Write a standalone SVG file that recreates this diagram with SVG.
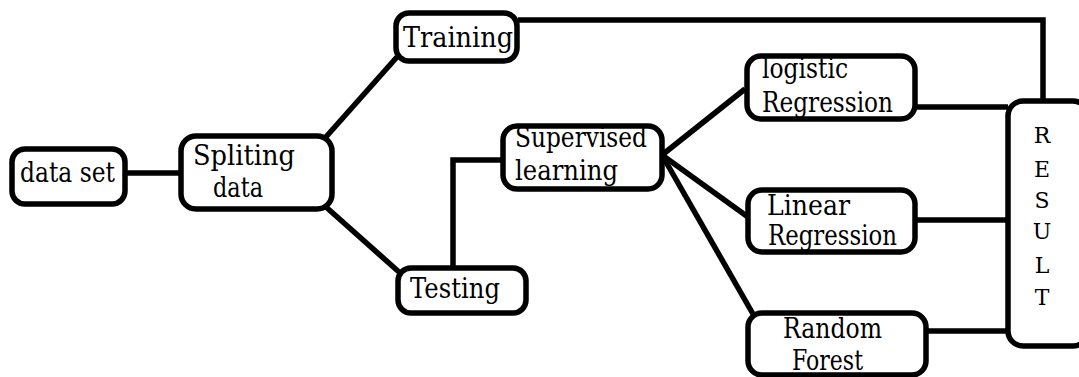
<svg xmlns="http://www.w3.org/2000/svg" width="1079" height="377" viewBox="0 0 1079 377">
<style>
.box{fill:#fff;stroke:#000;stroke-width:5.5}
.ln{fill:none;stroke:#000;stroke-width:5.5;stroke-linejoin:miter}
.t{font-family:'DejaVu Serif','Liberation Serif',serif;font-size:27px;fill:#000}
.res{font-size:22px;text-anchor:middle}
</style>
<rect width="1079" height="377" fill="#fff"/>
<g id="connectors">
<line class="ln" x1="125" y1="173" x2="182" y2="173"/>
<line class="ln" x1="325" y1="138" x2="397" y2="57"/>
<line class="ln" x1="326" y1="207" x2="399" y2="272"/>
<polyline class="ln" points="518,20 1043,20 1043,101"/>
<polyline class="ln" points="453,268 453,160 503,160"/>
<line class="ln" x1="662" y1="155" x2="745" y2="89"/>
<line class="ln" x1="662" y1="155" x2="748" y2="217"/>
<line class="ln" x1="662" y1="155" x2="753" y2="314"/>
<line class="ln" x1="915" y1="107" x2="1008" y2="107"/>
<line class="ln" x1="915" y1="220" x2="1008" y2="220"/>
<line class="ln" x1="925" y1="331" x2="1008" y2="331"/>
</g>
<g class="t">
<g id="dataset">
<rect class="box" x="12" y="149" width="113" height="55" rx="13"/>
<text x="20" y="182" textLength="95" lengthAdjust="spacingAndGlyphs">data set</text>
</g>
<g id="spliting">
<rect class="box" x="181" y="136" width="151" height="73" rx="15"/>
<text x="193" y="165" textLength="102" lengthAdjust="spacingAndGlyphs">Spliting</text>
<text x="213" y="197" textLength="50" lengthAdjust="spacingAndGlyphs">data</text>
</g>
<g id="training">
<rect class="box" x="396" y="13" width="121" height="48" rx="13"/>
<text x="403" y="47" textLength="110" lengthAdjust="spacingAndGlyphs">Training</text>
</g>
<g id="testing">
<rect class="box" x="398" y="268" width="128" height="45" rx="13"/>
<text x="410" y="298" textLength="90" lengthAdjust="spacingAndGlyphs">Testing</text>
</g>
<g id="supervised">
<rect class="box" x="503" y="126" width="159" height="63" rx="14"/>
<text x="515" y="147" textLength="132" lengthAdjust="spacingAndGlyphs">Supervised</text>
<text x="515" y="180" textLength="103" lengthAdjust="spacingAndGlyphs">learning</text>
</g>
<g id="logistic">
<rect class="box" x="747" y="56" width="168" height="63" rx="14"/>
<text x="762" y="78" textLength="86" lengthAdjust="spacingAndGlyphs">logistic</text>
<text x="762" y="112" textLength="131" lengthAdjust="spacingAndGlyphs">Regression</text>
</g>
<g id="linear">
<rect class="box" x="748" y="190" width="167" height="62" rx="14"/>
<text x="767" y="215" textLength="83" lengthAdjust="spacingAndGlyphs">Linear</text>
<text x="768" y="245" textLength="129" lengthAdjust="spacingAndGlyphs">Regression</text>
</g>
<g id="random">
<rect class="box" x="748" y="313" width="178" height="62" rx="14"/>
<text x="783" y="338" textLength="99" lengthAdjust="spacingAndGlyphs">Random</text>
<text x="792" y="370" textLength="71" lengthAdjust="spacingAndGlyphs">Forest</text>
</g>
<g id="result">
<rect class="box" x="1008" y="101" width="80" height="245" rx="15"/>
<text class="res" x="1042" y="143">R</text>
<text class="res" x="1042" y="177">E</text>
<text class="res" x="1042" y="208">S</text>
<text class="res" x="1042" y="239">U</text>
<text class="res" x="1042" y="273">L</text>
<text class="res" x="1042" y="305">T</text>
</g>
</g>
</svg>
